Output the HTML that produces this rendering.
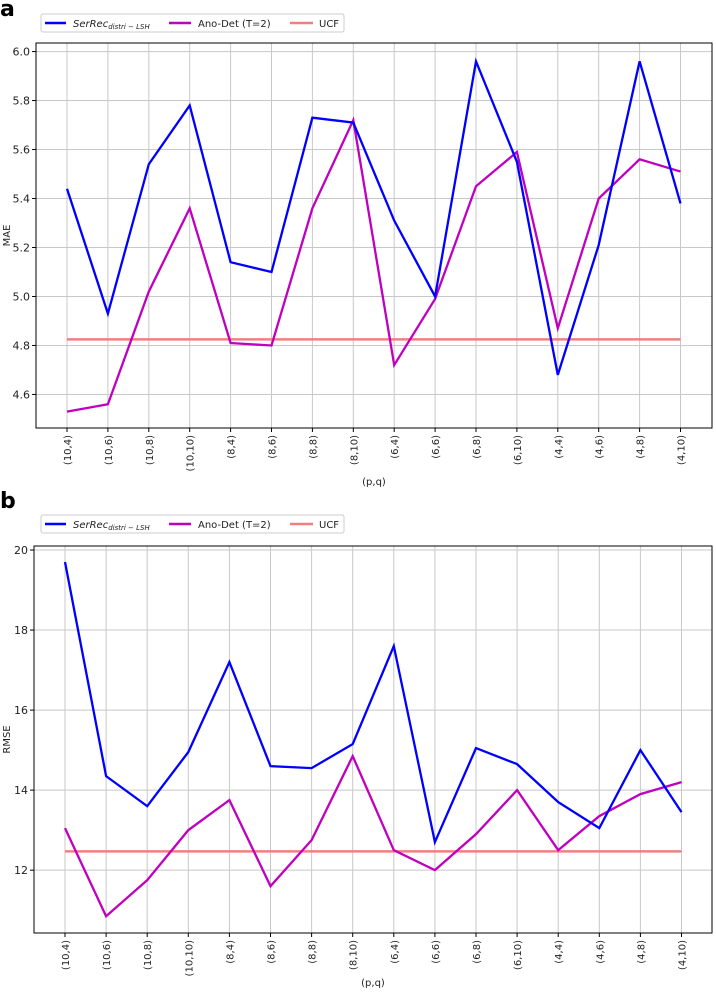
<!DOCTYPE html>
<html><head><meta charset="utf-8"><style>
body{margin:0;background:#fff;font-family:"Liberation Sans","DejaVu Sans",sans-serif}
svg text{font-family:"DejaVu Sans","Liberation Sans",sans-serif}
</style></head><body>
<svg id="s" width="716" height="992" xmlns="http://www.w3.org/2000/svg"></svg>
<script>
const cats=["(10,4)","(10,6)","(10,8)","(10,10)","(8,4)","(8,6)","(8,8)","(8,10)","(6,4)","(6,6)","(6,8)","(6,10)","(4,4)","(4,6)","(4,8)","(4,10)"];
const maeSer=[5.44,4.93,5.54,5.78,5.14,5.10,5.73,5.71,5.31,5.00,5.96,5.55,4.68,5.21,5.96,5.38];
const maeAno=[4.53,4.56,5.02,5.36,4.81,4.80,5.36,5.72,4.72,4.99,5.45,5.59,4.87,5.40,5.56,5.51];
const maeUcf=4.825;
const maeTicks=[4.6,4.8,5.0,5.2,5.4,5.6,5.8,6.0];
const rmseSer=[19.7,14.35,13.6,14.95,17.2,14.6,14.55,15.15,17.6,12.7,15.05,14.65,13.7,13.05,15.0,13.45];
const rmseAno=[13.05,10.85,11.75,13.0,13.75,11.6,12.75,14.85,12.5,12.0,12.9,14.0,12.5,13.35,13.9,14.2];
const rmseUcf=12.47;
const rmseTicks=[12,14,16,18,20];
const NS="http://www.w3.org/2000/svg";
const svg=document.getElementById('s');
function el(t,a,p){const e=document.createElementNS(NS,t);for(const k in a)e.setAttribute(k,a[k]);(p||svg).appendChild(e);return e;}
function panel(o){
  const g=el('g',{});
  
  
  const L=o.left,R=712,T=o.top,B=o.bottom;
  const x=i=>o.x0+i*o.step;
  const y=v=>T+(o.ymax-v)/(o.ymax-o.ymin)*(B-T);
  o.ticks.forEach(t=>{const l=el('line',{x1:L,x2:R,y1:y(t),y2:y(t),stroke:'#c8c8c8','stroke-width':1},g);
    
    el('line',{x1:L-4,x2:L,y1:y(t),y2:y(t),stroke:'#000'},g);
    const tx=el('text',{x:L-6,y:y(t)+4,'text-anchor':'end','font-size':11,fill:'#222'},g);tx.textContent=o.fmt(t);
    });
  cats.forEach((c,i)=>{const l=el('line',{x1:x(i),x2:x(i),y1:T,y2:B,stroke:'#c8c8c8','stroke-width':1},g);
    
    el('line',{x1:x(i),x2:x(i),y1:B,y2:B+4,stroke:'#000'},g);
    const tx=el('text',{transform:`translate(${x(i)+4},${B+7}) rotate(-90)`,'text-anchor':'end','font-size':10,fill:'#222'},g);tx.textContent=c;
    });
  const u=el('line',{x1:x(0),x2:x(cats.length-1),y1:y(o.ucf),y2:y(o.ucf),stroke:'#f08080','stroke-width':2.5},g);
  
  const pa=el('polyline',{points:o.ano.map((v,i)=>x(i)+','+y(v)).join(' '),fill:'none',stroke:'#bf00bf','stroke-width':2.3},g);
  
  const ps=el('polyline',{points:o.ser.map((v,i)=>x(i)+','+y(v)).join(' '),fill:'none',stroke:'#0000ff','stroke-width':2.3},g);
  
  const fr=el('rect',{x:L,y:T,width:R-L,height:B-T,fill:'none',stroke:'#000','stroke-width':1},g);
  
  const yl=el('text',{transform:`translate(10,${(T+B)/2}) rotate(-90)`,'text-anchor':'middle','font-size':10,fill:'#222'},g);yl.textContent=o.ylabel;
  
  const xl=el('text',{x:(L+R)/2,y:o.xlabY,'text-anchor':'middle','font-size':10,fill:'#222'},g);xl.textContent='(p,q)';
  
  const pl=el('text',{x:0,y:o.letterY,'font-size':22,'font-weight':'bold',fill:'#000'},g);pl.textContent=o.letter;
  
  const lg=el('g',{},g);
  const ly=o.legY;
  el('rect',{x:41,y:ly,width:303,height:18,fill:'#fff',stroke:'#ccc',rx:2},lg);
  el('line',{x1:45,x2:66,y1:ly+9,y2:ly+9,stroke:'#0000ff','stroke-width':2.5},lg);
  const t1=el('text',{x:73,y:ly+13,'font-size':10,'font-style':'italic',fill:'#222'},lg);
  t1.innerHTML='SerRec<tspan font-size="7" dy="2">distri − LSH</tspan>';
  
  el('line',{x1:169,x2:191,y1:ly+9,y2:ly+9,stroke:'#bf00bf','stroke-width':2.5},lg);
  const t2=el('text',{x:198,y:ly+13,'font-size':10,fill:'#222'},lg);t2.textContent='Ano-Det (T=2)';
  
  el('line',{x1:290,x2:313,y1:ly+9,y2:ly+9,stroke:'#f08080','stroke-width':2.5},lg);
  const t3=el('text',{x:319,y:ly+13,'font-size':10,fill:'#222'},lg);t3.textContent='UCF';
  
}
panel({name:'mae-chart',left:36,top:43,bottom:428,x0:67,step:40.9,ymin:4.463,ymax:6.035,ticks:maeTicks,fmt:t=>t.toFixed(1),
  ser:maeSer,ano:maeAno,ucf:maeUcf,ylabel:'MAE',xlabY:485,letter:'a',letterY:16,legY:14});
panel({name:'rmse-chart',left:34,top:546,bottom:933,x0:65,step:41.1,ymin:10.43,ymax:20.1,ticks:rmseTicks,fmt:t=>String(t),
  ser:rmseSer,ano:rmseAno,ucf:rmseUcf,ylabel:'RMSE',xlabY:986,letter:'b',letterY:508,legY:515});
</script>
</body></html>
